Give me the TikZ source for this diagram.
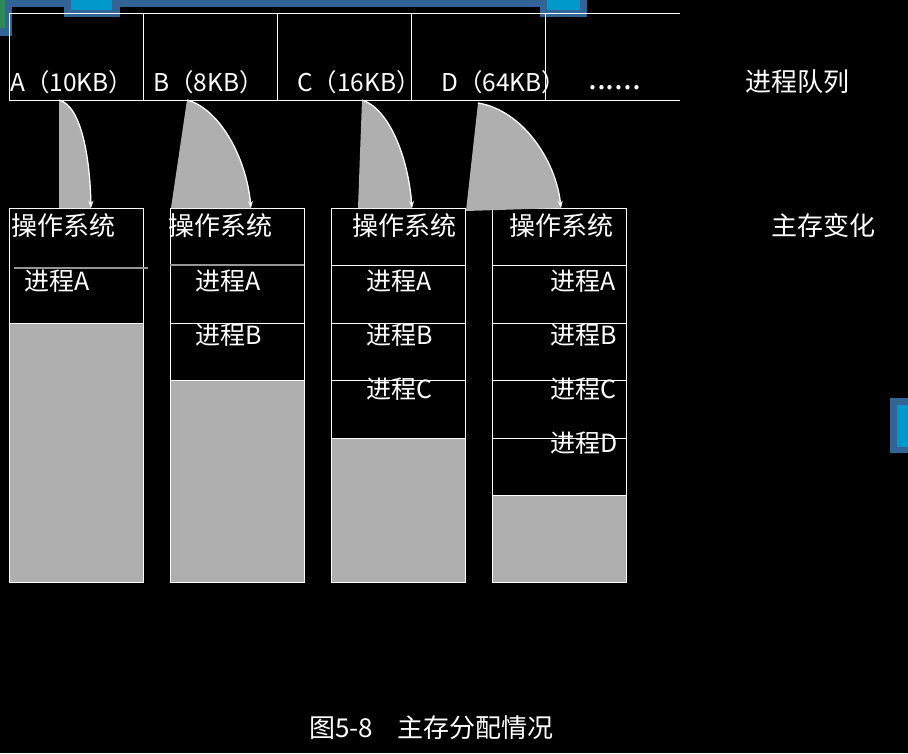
\documentclass[tikz,border=0pt]{standalone}
\usepackage{fontspec}
\setmainfont{Noto Sans CJK SC}
\usetikzlibrary{arrows.meta}
\definecolor{fillgray}{RGB}{175,175,175}
\definecolor{frameblue}{RGB}{50,100,150}
\definecolor{lightblue}{RGB}{0,153,204}
\definecolor{handlegreen}{RGB}{46,139,87}
\definecolor{divgray}{RGB}{150,150,150}
\begin{document}
\begin{tikzpicture}[x=1pt,y=-1pt,
  lbl/.style={text=white,inner sep=0pt,anchor=west,font=\fontsize{26}{30}\selectfont},
  plbl/.style={text=white,inner sep=0pt,anchor=west,font=\fontsize{25}{30}\selectfont},
  qlbl/.style={text=white,inner sep=0pt,anchor=west,font=\fontsize{24.5}{28}\selectfont},
  line/.style={draw=white,line width=1pt},
  memcol/.style={draw=white,line width=1pt,fill=none,minimum width=134pt,minimum height=374pt,inner sep=0pt},
  flow/.style={draw=white,line width=1.3pt,-{Stealth[length=7pt,width=5pt]}},
  flowfill/.style={fill=fillgray}]
\useasboundingbox (0,0) rectangle (908,753);
\fill[black] (0,0) rectangle (908,753);
% window decoration
\fill[frameblue] (0,0) rectangle (585,7);
\fill[frameblue] (0,0) rectangle (12,36);
\fill[handlegreen] (0,0) rectangle (5,28);
\fill[frameblue] (64,0) rectangle (120,17);
\fill[lightblue] (71,0) rectangle (112,10);
\fill[frameblue] (540,0) rectangle (587,17);
\fill[lightblue] (547,0) rectangle (580,10);
\fill[frameblue] (890,398) rectangle (908,453);
\fill[lightblue] (897,405) rectangle (908,447);
% process queue table
\draw[line] (680,13) -- (9,13) -- (9,100) -- (680,100);
\foreach \x in {143,277,411,545} \draw[line] (\x,13) -- (\x,100);
\node[qlbl] (qa) at (10,82) {A（10KB）};
\node[qlbl] (qb) at (153,82) {B（8KB）};
\node[qlbl] (qc) at (297,82) {C（16KB）};
\node[qlbl] (qd) at (441,82) {D（64KB）};
\node[text=white,inner sep=0pt,anchor=west,font=\fontsize{32}{34}\selectfont] (qdots) at (588,88) {......};
\node[lbl] (queue) at (745,82) {进程队列};
% memory columns: gray free space
\fill[fillgray] (9,323) rectangle (143,582);
\fill[fillgray] (170,380) rectangle (304,582);
\fill[fillgray] (331,438) rectangle (465,582);
\fill[fillgray] (492,495) rectangle (626,582);
\node[memcol] (m1) at (76,395) {};
\node[memcol] (m2) at (237,395) {};
\node[memcol] (m3) at (398,395) {};
\node[memcol] (m4) at (559,395) {};
% dividers
\draw[divgray,line width=1.5pt] (14,268) -- (148,268);
\draw[line] (9,323) -- (143,323);
\draw[divgray,line width=1.2pt] (170,265) -- (304,265);
\draw[line] (170,323) -- (304,323);
\draw[line] (170,380) -- (304,380);
\foreach \y in {265,323,380,438} \draw[line] (331,\y) -- (465,\y);
\foreach \y in {265,323,380,438,495} \draw[line] (492,\y) -- (626,\y);
% labels in memory
\node[lbl] (os1) at (11,226) {操作系统};
\node[lbl] (os2) at (168,226) {操作系统};
\node[lbl] (os3) at (352,226) {操作系统};
\node[lbl] (os4) at (509,226) {操作系统};
\node[plbl] (p1a) at (24,281) {进程A};
\node[plbl] (p2a) at (195,281) {进程A};
\node[plbl] (p2b) at (195,335) {进程B};
\node[plbl] (p3a) at (366,281) {进程A};
\node[plbl] (p3b) at (366,335) {进程B};
\node[plbl] (p3c) at (366,389) {进程C};
\node[plbl] (p4a) at (550,281) {进程A};
\node[plbl] (p4b) at (550,335) {进程B};
\node[plbl] (p4c) at (550,389) {进程C};
\node[plbl] (p4d) at (550,443) {进程D};
\node[lbl] (mem) at (771,226) {主存变化};
\node[lbl] (cap) at (309,728) {图5-8\hspace{24pt}主存分配情况};
% flow arrows
\coordinate (t1) at (59,100); \coordinate (b1) at (59,208); \coordinate (e1) at (91,208);
\coordinate (t2) at (187,100); \coordinate (b2) at (171,208); \coordinate (e2) at (251,208);
\coordinate (t3) at (362,100); \coordinate (b3) at (358,208); \coordinate (e3) at (412,208);
\coordinate (t4) at (478,103); \coordinate (b4) at (466,211); \coordinate (e4) at (561,208);
\fill[flowfill] (t1) -- (b1) -- (e1) .. controls (90,160) and (82,106) .. (t1);
\fill[flowfill] (t2) -- (b2) -- (e2) .. controls (246,155) and (218,108) .. (t2);
\fill[flowfill] (t3) -- (b3) -- (e3) .. controls (408,155) and (388,108) .. (t3);
\fill[flowfill] (t4) -- (b4) -- (e4) .. controls (556,160) and (522,110) .. (t4);
\draw[flow] (t1) .. controls (82,106) and (90,160) .. (e1);
\draw[flow] (t2) .. controls (218,108) and (246,155) .. (e2);
\draw[flow] (t3) .. controls (388,108) and (408,155) .. (e3);
\draw[flow] (t4) .. controls (522,110) and (556,160) .. (e4);
\end{tikzpicture}
\end{document}
